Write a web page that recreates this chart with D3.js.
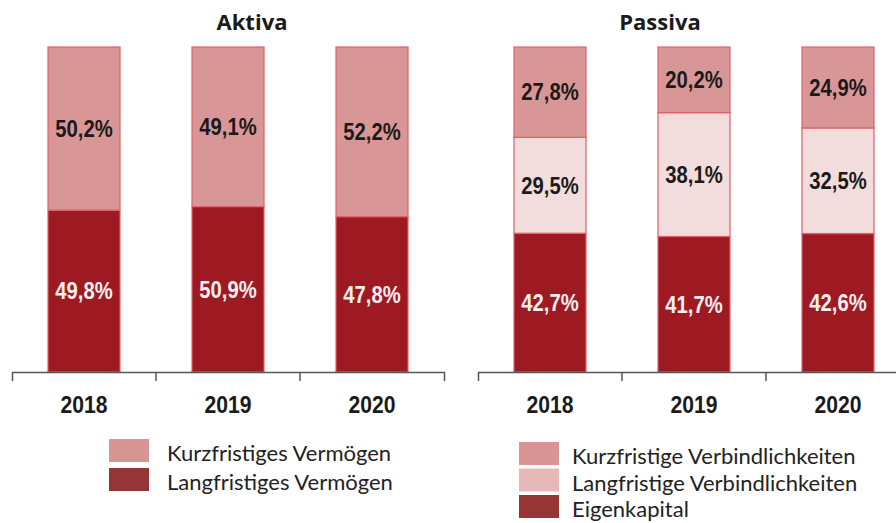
<!DOCTYPE html>
<html>
<head>
  <meta charset="utf-8">
  <script src="https://d3js.org/d3.v7.min.js"></script>
  <style>
    body { margin: 0; background: #fff; }
    .val { font-family: "Liberation Sans", Arial, sans-serif; font-weight: bold; font-size: 23px; }
    .year { font-family: "Liberation Sans", Arial, sans-serif; font-weight: bold; font-size: 24px; fill: #1a1a1a; }
    .title { font-family: "Open Sans", sans-serif; font-weight: bold; font-size: 22px; fill: #1a1a1a; }
    .leg { font-family: "Lato", sans-serif; font-size: 22px; fill: #222; }
  </style>
</head>
<body>
  <div id="chart"></div>
  <script>
    // data
    var years = ["2018", "2019", "2020"];
    var aktivaKurz = [50.2, 49.1, 52.2];
    var aktivaLang = [49.8, 50.9, 47.8];
    var passivaKurz = [27.8, 20.2, 24.9];
    var passivaLang = [29.5, 38.1, 32.5];
    var passivaEigen = [42.7, 41.7, 42.6];

    var aktivaNames = ["Kurzfristiges Vermögen", "Langfristiges Vermögen"];
    var passivaNames = ["Kurzfristige Verbindlichkeiten", "Langfristige Verbindlichkeiten", "Eigenkapital"];

    var W = 896, H = 523;
    var svg = d3.select("#chart").append("svg")
      .attr("width", W).attr("height", H);

    var y = d3.scaleLinear().domain([0, 100]).range([372, 47]);

    var fmt = function (v) { return d3.format(".1f")(v).replace(".", ",") + "%"; };

    // squeeze text horizontally to look like a narrow font
    function narrow(sel, k) {
      sel.each(function () {
        var w = this.getComputedTextLength();
        d3.select(this).attr("textLength", w * k).attr("lengthAdjust", "spacingAndGlyphs");
      });
    }

    function panel(x0, x1, title, titleX, series) {
      // series: bottom first
      var x = d3.scaleBand().domain(years).range([x0, x1])
        .paddingInner(0.5).paddingOuter(0.25);
      var step = x.step();

      svg.append("text").attr("class", "title")
        .attr("x", titleX)
        .attr("y", 30).attr("text-anchor", "middle").text(title);

      var stacked = [];
      years.forEach(function (yr, i) {
        var base = 0;
        series.forEach(function (s) {
          stacked.push({ year: yr, y0: base, y1: base + s.values[i], v: s.values[i], fill: s.fill, text: s.text });
          base += s.values[i];
        });
      });

      var g = svg.append("g");
      g.selectAll("rect").data(stacked).enter().append("rect")
        .attr("x", function (d) { return x(d.year); })
        .attr("y", function (d) { return y(d.y1); })
        .attr("width", x.bandwidth())
        .attr("height", function (d) { return y(d.y0) - y(d.y1); })
        .attr("fill", function (d) { return d.fill; })
        .attr("stroke", "#e0606a")
        .attr("stroke-width", 1.2);

      g.selectAll("text.val").data(stacked).enter().append("text")
        .attr("class", "val")
        .attr("x", function (d) { return x(d.year) + x.bandwidth() / 2; })
        .attr("y", function (d) { return (y(d.y0) + y(d.y1)) / 2; })
        .attr("dy", "0.36em")
        .attr("text-anchor", "middle")
        .attr("fill", function (d) { return d.text; })
        .text(function (d) { return fmt(d.v); })
        .call(narrow, 0.88);

      // axis
      var ax = svg.append("g").attr("transform", "translate(0,372)")
        .call(d3.axisBottom(x).tickSize(0).tickSizeOuter(9).tickPadding(24));
      ax.select(".domain").attr("stroke", "#555").attr("stroke-width", 1.5);
      ax.selectAll(".tick text").attr("class", "year").attr("fill", "#1a1a1a").call(narrow, 0.88);
      // category boundary ticks
      ax.selectAll("line.sep").data(years.slice(1)).enter().append("line")
        .attr("class", "sep")
        .attr("x1", function (d) { return x(d) - step * 0.25; })
        .attr("x2", function (d) { return x(d) - step * 0.25; })
        .attr("y1", 0).attr("y2", 9)
        .attr("stroke", "#555").attr("stroke-width", 1.5);
    }

    panel(12, 444, "Aktiva", 252, [
      { values: aktivaLang, fill: "#9e1a23", text: "#f4eeee" },
      { values: aktivaKurz, fill: "#d99696", text: "#1a1a1a" }
    ]);
    panel(478, 910, "Passiva", 660, [
      { values: passivaEigen, fill: "#9e1a23", text: "#f4eeee" },
      { values: passivaLang, fill: "#f2dcdc", text: "#1a1a1a" },
      { values: passivaKurz, fill: "#d99696", text: "#1a1a1a" }
    ]);

    // legends
    function legend(x0, y0, rowH, textX, names, colors) {
      var g = svg.append("g");
      var ly = d3.scaleBand().domain(names).range([y0, y0 + names.length * rowH]);
      g.selectAll("rect").data(names).enter().append("rect")
        .attr("x", x0).attr("y", function (d) { return ly(d); })
        .attr("width", 40).attr("height", 23)
        .attr("fill", function (d, i) { return colors[i]; });
      g.selectAll("text").data(names).enter().append("text")
        .attr("class", "leg")
        .attr("x", textX).attr("y", function (d) { return ly(d) + 22; })
        .text(function (d) { return d; });
    }
    legend(109, 439, 29, 167, aktivaNames, ["#d99594", "#953535"]);
    legend(519, 442, 26.5, 572, passivaNames, ["#d99594", "#e6b8b7", "#953535"]);
  </script>
</body>
</html>
